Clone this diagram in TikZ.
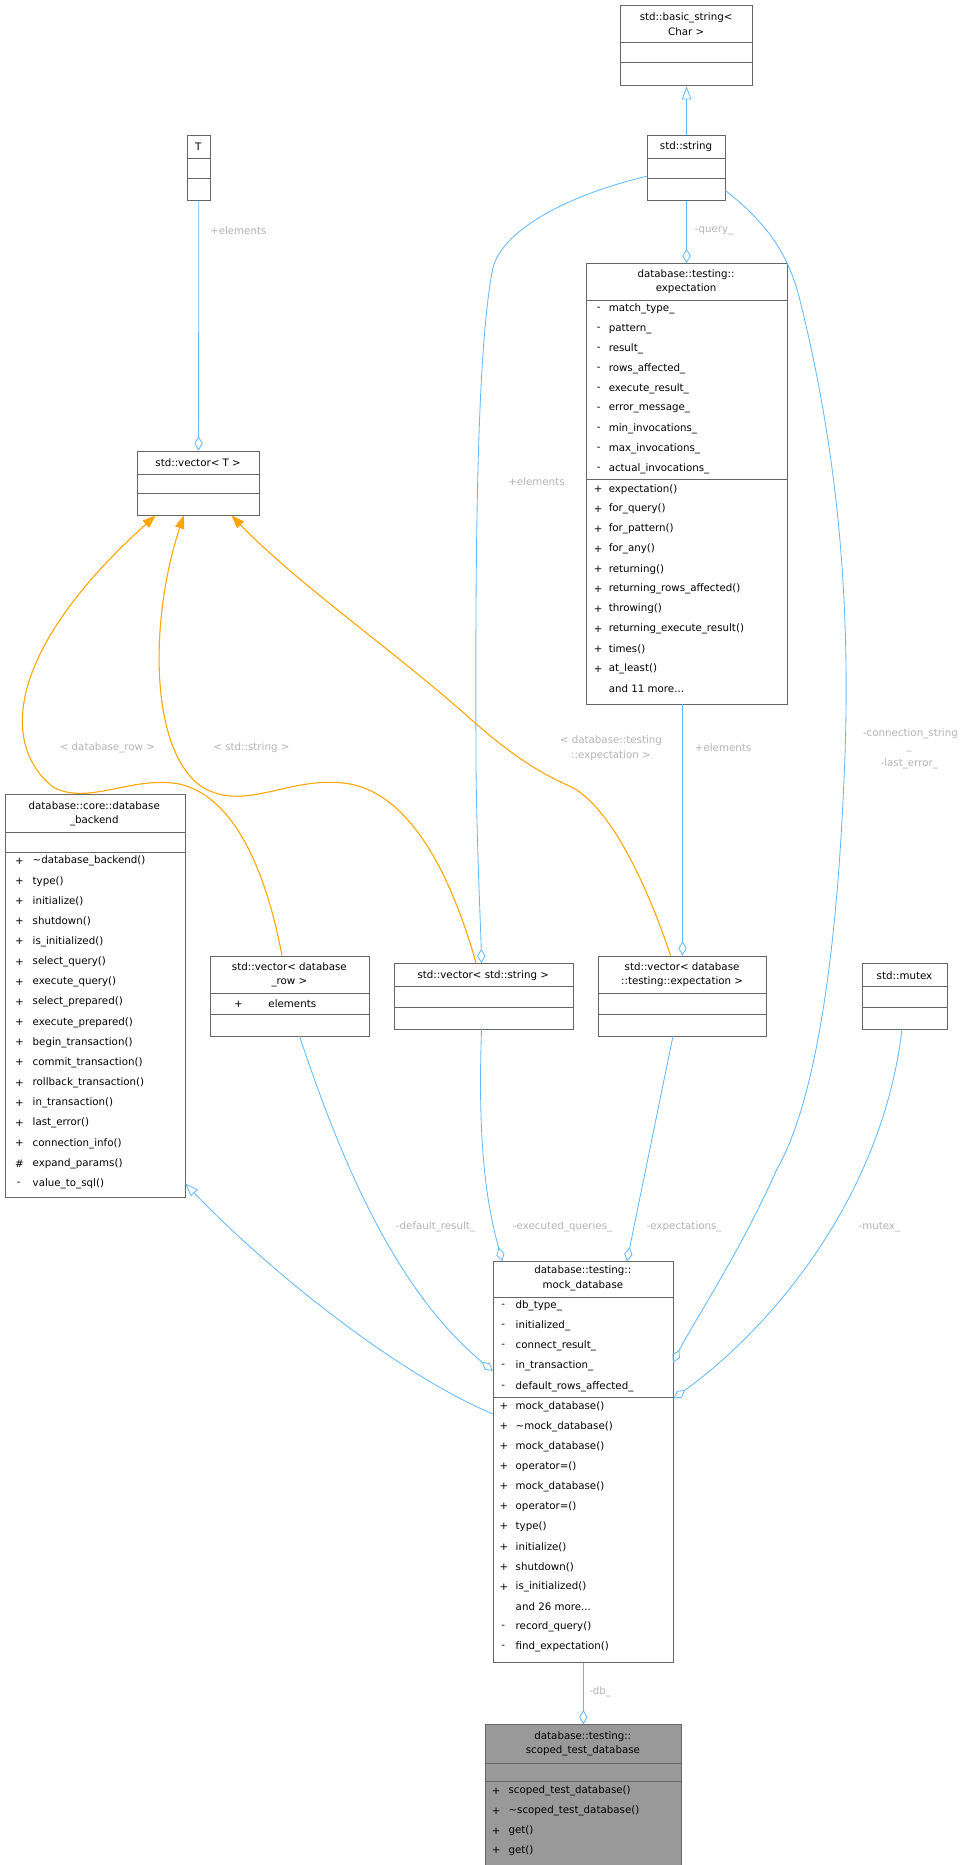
\documentclass[tikz,border=0pt]{standalone}
\usepackage{fontspec}
\setmainfont{DejaVu Sans}
\usetikzlibrary{arrows.meta}
\definecolor{edge}{HTML}{63B8FF}
\definecolor{bord}{HTML}{666666}
\definecolor{lab}{HTML}{B3B3B3}
\definecolor{org}{HTML}{FFA500}
\newcommand\rw[3]{\node[txt] at (#1,#2) {#3};}
\newcommand\sr[5]{\node[txt] at (#1,#3) {#4};\node[txt] at (#2,#3) {#5};}
\newcommand\hl[3]{\draw[bord,line width=0.7pt] (#1,#3) -- (#2,#3);}
\begin{document}
\begin{tikzpicture}[x=1pt,y=-1pt,
  box/.style={draw=bord,line width=0.8pt,anchor=north west,inner sep=0pt},
  txt/.style={anchor=west,inner sep=0pt,font=\fontsize{8.6}{10}\selectfont},
  ttl/.style={anchor=center,inner sep=0pt,align=center,font=\fontsize{8.6}{12}\selectfont},
  lbl/.style={text=lab,inner sep=0pt,align=center,font=\fontsize{8.6}{12}\selectfont},
  ag/.style={draw=edge,line width=0.7pt,-{Diamond[open,length=12pt,width=7pt]}},
  inh/.style={draw=edge,line width=0.7pt,-{Triangle[open,length=11pt,width=8pt]}},
  tpl/.style={draw=org,line width=0.9pt,-{Triangle[length=11pt,width=8pt]}}]
\useasboundingbox (0,0) rectangle (815.6,1563);
% std::basic_string
\node[box,minimum width=110pt,minimum height=67.2pt] (bs) at (520,4.3) {};
\node[ttl] (bst) at (575,20.3) {std::basic\_string<\\Char >};
\hl{520}{630}{35.5}\hl{520}{630}{52.7}
% std::string
\node[box,minimum width=66pt,minimum height=54.4pt] (str) at (542,113.4) {};
\node[ttl] (strt) at (575,123.3) {std::string};
\hl{542}{608}{132.7}\hl{542}{608}{149.4}
% T
\node[box,minimum width=18.8pt,minimum height=54.4pt] (T) at (156.8,113.4) {};
\node[ttl] (Tt) at (166.2,123.3) {T};
\hl{156.8}{175.6}{132.7}\hl{156.8}{175.6}{149.4}
% vector<T>
\node[box,minimum width=102pt,minimum height=54.4pt] (vT) at (115,377.6) {};
\node[ttl] (vTt) at (166,387.4) {std::vector< T >};
\hl{115}{217}{397.3}\hl{115}{217}{413.5}
% expectation
\node[box,minimum width=168.4pt,minimum height=369.5pt] (ex) at (490.8,220.5) {};
\node[ttl] (ext) at (575,236.3) {database::testing::\\expectation};
\hl{490.8}{659.2}{251.7}\hl{490.8}{659.2}{402}
\sr{500}{510}{259}{-}{match\_type\_}
\sr{500}{510}{275.75}{-}{pattern\_}
\sr{500}{510}{292.5}{-}{result\_}
\sr{500}{510}{309.25}{-}{rows\_affected\_}
\sr{500}{510}{326}{-}{execute\_result\_}
\sr{500}{510}{342.75}{-}{error\_message\_}
\sr{500}{510}{359.5}{-}{min\_invocations\_}
\sr{500}{510}{376.25}{-}{max\_invocations\_}
\sr{500}{510}{393}{-}{actual\_invocations\_}
\sr{497.5}{510}{410}{+}{expectation()}
\sr{497.5}{510}{426.75}{+}{for\_query()}
\sr{497.5}{510}{443.5}{+}{for\_pattern()}
\sr{497.5}{510}{460.25}{+}{for\_any()}
\sr{497.5}{510}{477}{+}{returning()}
\sr{497.5}{510}{493.75}{+}{returning\_rows\_affected()}
\sr{497.5}{510}{510.5}{+}{throwing()}
\sr{497.5}{510}{527.25}{+}{returning\_execute\_result()}
\sr{497.5}{510}{544}{+}{times()}
\sr{497.5}{510}{560.75}{+}{at\_least()}
\rw{510}{577.5}{and 11 more...}
% database_backend
\node[box,minimum width=151.1pt,minimum height=337.4pt] (be) at (4.2,665.6) {};
\node[ttl] (bet) at (79,682) {database::core::database\\\_backend};
\hl{4.2}{155.3}{697.7}\hl{4.2}{155.3}{714.6}
\sr{12.5}{27.2}{721.6}{+}{\textasciitilde database\_backend()}
\sr{12.5}{27.2}{738.5}{+}{type()}
\sr{12.5}{27.2}{755.4}{+}{initialize()}
\sr{12.5}{27.2}{772.3}{+}{shutdown()}
\sr{12.5}{27.2}{789.2}{+}{is\_initialized()}
\sr{12.5}{27.2}{806.1}{+}{select\_query()}
\sr{12.5}{27.2}{823}{+}{execute\_query()}
\sr{12.5}{27.2}{839.9}{+}{select\_prepared()}
\sr{12.5}{27.2}{856.8}{+}{execute\_prepared()}
\sr{12.5}{27.2}{873.7}{+}{begin\_transaction()}
\sr{12.5}{27.2}{890.6}{+}{commit\_transaction()}
\sr{12.5}{27.2}{907.5}{+}{rollback\_transaction()}
\sr{12.5}{27.2}{924.4}{+}{in\_transaction()}
\sr{12.5}{27.2}{941.3}{+}{last\_error()}
\sr{12.5}{27.2}{958.2}{+}{connection\_info()}
\sr{12.5}{27.2}{975.1}{\#}{expand\_params()}
\sr{14}{27.2}{992}{-}{value\_to\_sql()}
% vector<database_row>
\node[box,minimum width=133.9pt,minimum height=67.5pt] (vdr) at (175.6,800.8) {};
\node[ttl] (vdrt) at (242.5,816.8) {std::vector< database\\\_row >};
\hl{175.6}{309.5}{832.8}\hl{175.6}{309.5}{850.3}
\sr{196}{224.8}{841.5}{+}{elements}
% vector<std::string>
\node[box,minimum width=150.5pt,minimum height=54.8pt] (vs) at (329.9,807.2) {};
\node[ttl] (vst) at (405,817.7) {std::vector< std::string >};
\hl{329.9}{480.4}{827}\hl{329.9}{480.4}{844.4}
% vector<expectation>
\node[box,minimum width=140.6pt,minimum height=67.5pt] (ve) at (501.3,800.8) {};
\node[ttl] (vet) at (571.6,816.8) {std::vector< database\\::testing::expectation >};
\hl{501.3}{641.9}{832.8}\hl{501.3}{641.9}{850.3}
% mutex
\node[box,minimum width=71.1pt,minimum height=54.8pt] (mx) at (722.4,807.2) {};
\node[ttl] (mxt) at (758,817.7) {std::mutex};
\hl{722.4}{793.5}{827}\hl{722.4}{793.5}{844.4}
% mock_database
\node[box,minimum width=151pt,minimum height=336pt] (md) at (413,1057) {};
\node[ttl] (mdt) at (488.5,1071.2) {database::testing::\\mock\_database};
\hl{413}{564}{1087}\hl{413}{564}{1171}
\sr{420}{432}{1094.3}{-}{db\_type\_}
\sr{420}{432}{1111.2}{-}{initialized\_}
\sr{420}{432}{1128.1}{-}{connect\_result\_}
\sr{420}{432}{1145}{-}{in\_transaction\_}
\sr{420}{432}{1161.9}{-}{default\_rows\_affected\_}
\sr{418.5}{432}{1178.7}{+}{mock\_database()}
\sr{418.5}{432}{1195.5}{+}{\textasciitilde mock\_database()}
\sr{418.5}{432}{1212.3}{+}{mock\_database()}
\sr{418.5}{432}{1229.1}{+}{operator=()}
\sr{418.5}{432}{1245.9}{+}{mock\_database()}
\sr{418.5}{432}{1262.7}{+}{operator=()}
\sr{418.5}{432}{1279.5}{+}{type()}
\sr{418.5}{432}{1296.3}{+}{initialize()}
\sr{418.5}{432}{1313.1}{+}{shutdown()}
\sr{418.5}{432}{1329.9}{+}{is\_initialized()}
\rw{432}{1346.7}{and 26 more...}
\sr{420}{432}{1363.5}{-}{record\_query()}
\sr{420}{432}{1380.3}{-}{find\_expectation()}
% scoped_test_database
\node[box,fill={rgb,255:red,153;green,153;blue,153},minimum width=163.6pt,minimum height=117.6pt] (sd) at (406.7,1445) {};
\node[ttl] (sdt) at (488.5,1461.5) {database::testing::\\scoped\_test\_database};
\hl{406.7}{570.3}{1477.5}\hl{406.7}{570.3}{1493}
\sr{412}{426}{1500.8}{+}{scoped\_test\_database()}
\sr{412}{426}{1517.6}{+}{\textasciitilde scoped\_test\_database()}
\sr{412}{426}{1534.4}{+}{get()}
\sr{412}{426}{1551}{+}{get()}
% edges
\draw[inh] (str.north) -- (bs.south);
\draw[ag] (T.south) -- (vT.north);
\node[lbl] (l1) at (199.7,193.5) {+elements};
\draw[ag] (str.south) -- (ex.north -| str.south);
\node[lbl] (l2) at (598.5,193.5) {-query\_};
\draw[ag] (542,147.7) .. controls (470,165) and (420,195) .. (413,225) .. controls (400,290) and (398,450) .. (399,650) .. controls (400,720) and (403,780) .. (403.5,807.2);
\node[lbl] (l3) at (449.6,404) {+elements};
\draw[ag] (608,159.7) .. controls (640,185) and (660,210) .. (670,250) .. controls (700,370) and (715,500) .. (707,660) .. controls (700,820) and (680,930) .. (651,980) .. controls (620,1050) and (580,1110) .. (564,1142);
\node[lbl] (l4) at (763,615) {-connection\_string};
\node[lbl] (l4b) at (762,629) {\_};
\node[lbl] (l4c) at (762,640) {-last\_error\_};
\draw[ag] (572,590) -- (572,800.8);
\node[lbl] (l5) at (606,627) {+elements};
\draw[tpl] (236.3,800.8) .. controls (225,740) and (200,668) .. (150,657) .. controls (110,650) and (75,675) .. (45,660) .. controls (0,625) and (5,545) .. (130.4,432);
\node[lbl] (l6) at (90,627) {< database\_row >};
\draw[tpl] (399,807.2) .. controls (380,740) and (345,660) .. (285,656) .. controls (240,652) and (205,680) .. (170,660) .. controls (125,630) and (125,520) .. (154,432);
\node[lbl] (l7) at (210.7,627) {< std::string >};
\draw[tpl] (562,800.8) .. controls (545,750) and (515,680) .. (480,660) .. controls (445,645) and (420,625) .. (396,604) .. controls (330,545) and (250,490) .. (194,432);
\node[lbl] (l8) at (512,627) {< database::testing\\::expectation >};
\draw[inh] (413,1185) .. controls (330,1150) and (220,1060) .. (155.3,991.8);
\draw[ag] (251,868.3) .. controls (285,970) and (330,1080) .. (413,1149);
\node[lbl] (l9) at (365,1028) {-default\_result\_};
\draw[ag] (403.6,862) .. controls (400,960) and (408,1010) .. (421,1057);
\node[lbl] (l10) at (471.5,1028) {-executed\_queries\_};
\draw[ag] (564,868.3) -- (525.4,1057);
\node[lbl] (l11) at (573.4,1028) {-expectations\_};
\draw[ag] (756,862) .. controls (740,1000) and (650,1110) .. (564.5,1172);
\node[lbl] (l12) at (737,1028) {-mutex\_};
\draw[ag] (md.south) -- (sd.north);
\node[lbl] (l13) at (503,1417.5) {-db\_};
\end{tikzpicture}
\end{document}
